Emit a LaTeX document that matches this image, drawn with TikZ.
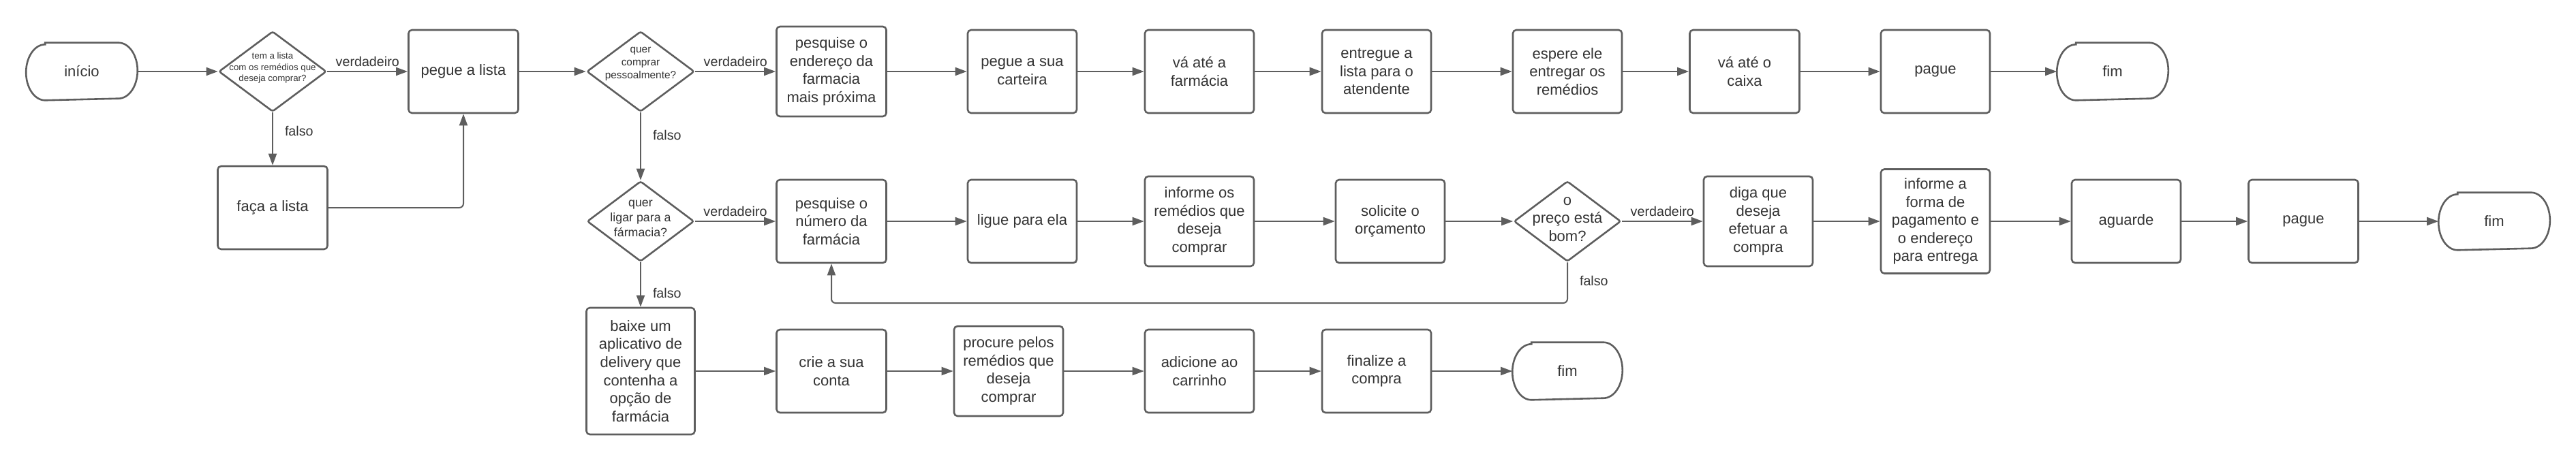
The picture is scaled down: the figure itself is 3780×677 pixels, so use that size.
\documentclass[tikz,border=0pt]{standalone}
\usepackage{fontspec}
\setmainfont{Liberation Sans}
\usetikzlibrary{arrows.meta,shapes.geometric}
\definecolor{lc}{HTML}{5E5E5E}
\definecolor{tc}{HTML}{333333}
\newcommand\fmain{\fontsize{22}{26.6}\selectfont}
\newcommand\termout[1]{\draw[draw=lc,line width=2.6pt]
  ([xshift=28pt]#1.north west) -- ([xshift=-28pt]#1.north east)
  arc[start angle=90,end angle=-90,x radius=28pt,y radius=41pt]
  -- ([xshift=28pt]#1.south west)
  arc[start angle=270,end angle=90,x radius=28pt,y radius=41pt] -- cycle;}
\begin{document}
\begin{tikzpicture}[x=1pt,y=1pt,
  box/.style={draw=lc, line width=2.6pt, rounded corners=5pt, inner sep=0pt, align=center,
    text=tc, font=\fmain, minimum width=160pt, minimum height=122pt},
  term/.style={draw=none, inner sep=0pt, outer sep=1.3pt, text=tc, font=\fmain,
    minimum width=161pt, minimum height=82pt},
  dia/.style={diamond, draw=lc, line width=2.6pt, rounded corners=3pt, inner sep=0pt,
    minimum width=158pt, minimum height=118pt},
  dtxt/.style={align=center, text=tc, inner sep=0pt},
  arr/.style={draw=lc, line width=2pt, -{Triangle[length=17pt,width=12pt]}},
  lab/.style={text=tc, font=\fontsize{19.7}{23}\selectfont, inner sep=1pt},
  vlab/.style={lab, anchor=south, yshift=5pt},
  flab/.style={lab, anchor=west, xshift=16pt},
]
\useasboundingbox (0,0) rectangle (3780,-677);

% ---- row 1
\node[term] (ini) at (120,-105) {início};
\node[dia] (d1) at (400,-105) {};
\node[dtxt, font=\fontsize{13.3}{16.5}\selectfont] (d1t) at (400,-100) {tem a lista\\com os remédios que\\deseja comprar?};
\node[box, minimum width=161pt] (pl) at (680,-105) {pegue a lista};
\node[box, minimum width=161pt] (fl) at (400,-305) {faça a lista};
\node[dia] (d2) at (940,-105) {};
\node[dtxt, font=\fontsize{15.4}{18.7}\selectfont] (d2t) at (940,-94) {quer\\comprar\\pessoalmente?};
\node[box, minimum width=161pt, minimum height=132pt] (pe) at (1220,-105) {pesquise o\\endereço da\\farmacia\\mais próxima};
\node[box] (pc) at (1500,-105) {pegue a sua\\carteira};
\node[box] (vf) at (1760,-105) {vá até a\\farmácia};
\node[box] (el) at (2020,-105) {entregue a\\lista para o\\atendente};
\node[box] (ee) at (2300,-105) {espere ele\\entregar os\\remédios};
\node[box, minimum width=161pt] (vc) at (2560,-105) {vá até o\\caixa};
\node[box] (pg1) at (2840,-105) {pague};
\node[term] (fim1) at (3100,-105) {fim};

% ---- row 2
\node[dia, minimum width=157pt] (d3) at (940,-325) {};
\node[dtxt, font=\fontsize{17.8}{22}\selectfont] (d3t) at (940,-321) {quer\\ligar para a\\fármacia?};
\node[box, minimum width=161pt] (pn) at (1220,-325) {pesquise o\\número da\\farmácia};
\node[box] (lp) at (1500,-325) {ligue para ela};
\node[box, minimum height=132pt] (ir) at (1760,-325) {informe os\\remédios que\\deseja\\comprar};
\node[box] (so) at (2040,-325) {solicite o\\orçamento};
\node[dia, minimum width=157pt] (d4) at (2300,-325) {};
\node[dtxt, font=\fmain] (d4t) at (2300,-322) {o\\preço está\\bom?};
\node[box, minimum height=132pt] (dq) at (2580,-325) {diga que\\deseja\\efetuar a\\compra};
\node[box, minimum height=153pt] (ff) at (2840,-325) {informe a\\forma de\\pagamento e\\o endereço\\para entrega};
\node[box] (ag) at (3120,-325) {aguarde};
\node[box, minimum width=161pt] (pg2) at (3380,-325) {pague};
\node[term] (fim2) at (3660,-325) {fim};

% ---- row 3
\node[box, minimum width=159pt, minimum height=186pt] (bx) at (940,-545) {baixe um\\aplicativo de\\delivery que\\contenha a\\opção de\\farmácia};
\node[box, minimum width=161pt] (cc) at (1220,-545) {crie a sua\\conta};
\node[box, minimum height=132pt] (pr) at (1480,-545) {procure pelos\\remédios que\\deseja\\comprar};
\node[box] (ac) at (1760,-545) {adicione ao\\carrinho};
\node[box] (fc) at (2020,-545) {finalize a\\compra};
\node[term, minimum width=159pt] (fim3) at (2300,-545) {fim};

\termout{ini}
\termout{fim1}
\termout{fim2}
\termout{fim3}

% ---- connectors row 1
\draw[arr] (ini) -- (d1);
\draw[arr] (d1.east) -- node[vlab]{verdadeiro} (pl.west);
\draw[arr] (d1.south) -- node[flab, pos=0.35]{falso} (fl.north);
\draw[arr, rounded corners=6pt] (fl.east) -| (pl.south);
\draw[arr] (pl) -- (d2);
\draw[arr] (d2.east) -- node[vlab]{verdadeiro} (pe.west);
\draw[arr] (pe) -- (pc);
\draw[arr] (pc) -- (vf);
\draw[arr] (vf) -- (el);
\draw[arr] (el) -- (ee);
\draw[arr] (ee) -- (vc);
\draw[arr] (vc) -- (pg1);
\draw[arr] (pg1) -- (fim1);

% ---- connectors row 2
\draw[arr] (d2.south) -- node[flab, pos=0.33]{falso} (d3.north);
\draw[arr] (d3.east) -- node[vlab]{verdadeiro} (pn.west);
\draw[arr] (pn) -- (lp);
\draw[arr] (lp) -- (ir);
\draw[arr] (ir) -- (so);
\draw[arr] (so) -- (d4);
\draw[arr] (d4.east) -- node[vlab]{verdadeiro} (dq.west);
\draw[arr] (dq) -- (ff);
\draw[arr] (ff) -- (ag);
\draw[arr] (ag) -- (pg2);
\draw[arr] (pg2) -- (fim2);
\coordinate (loop) at (2300,-445);
\draw[arr, rounded corners=6pt] (d4.south) -- node[flab, pos=0.46]{falso} (loop) -| (pn.south);

% ---- connectors row 3
\draw[arr] (d3.south) -- node[flab, pos=0.69]{falso} (bx.north);
\draw[arr] (bx) -- (cc);
\draw[arr] (cc) -- (pr);
\draw[arr] (pr) -- (ac);
\draw[arr] (ac) -- (fc);
\draw[arr] (fc) -- (fim3);
\end{tikzpicture}
\end{document}
